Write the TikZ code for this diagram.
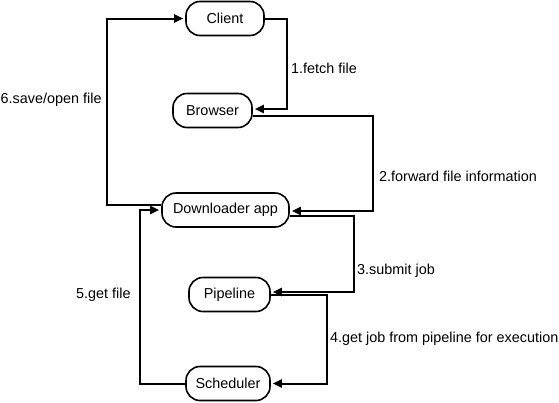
\documentclass[tikz,border=0pt]{standalone}
\usepackage{fontspec}
\setmainfont{Liberation Sans}
\usetikzlibrary{arrows.meta}

\begin{document}
\begin{tikzpicture}[
	  x=1pt,y=-1pt,font=\fontsize{14.4}{16}\selectfont,
	  stage/.style={draw,line width=1.6pt,rounded corners=14pt,minimum height=34pt,inner xsep=0pt},
	  flow/.style={line width=2pt,-{Triangle[length=9pt,width=8pt]},shorten >=2pt},
	  steplabel/.style={anchor=west,inner sep=0pt}
	]
		\useasboundingbox (0,0) rectangle (559,402);
		\node [stage,minimum width=78pt] (client) at (225,18.5) {Client};
		\node [stage,minimum width=79pt] (browser) at (212.5,110.5) {Browser};
		\node [stage,minimum width=127pt] (dl) at (225.5,210) {Downloader app};
		\node [stage,minimum width=81pt] (pipe) at (229.5,294.5) {Pipeline};
		\node [stage,minimum width=84pt] (sched) at (228,383.5) {Scheduler};
		\draw [flow] (client.east) -- ++(22,0) |- ([yshift=1.5pt]browser.east);
		\draw [flow] ([yshift=-5.5pt]browser.east) -- ++(120,0) |- ([yshift=-1pt]dl.east);
		\draw [flow] ([yshift=-6pt]dl.east) -- ++(64,0) |- ([yshift=2.5pt]pipe.east);
		\draw [flow] (pipe.east) -- ++(56,0) |- (sched.east);
		\draw [flow] (sched.west) -- ++(-45,0) |- (dl.west);
		\draw [flow] ([yshift=5pt]dl.west) -- ++(-54,0) |- (client.west);
		\node [steplabel] (l1) at (291,68.5) {1.fetch file};
		\node [steplabel] (l2) at (379,176) {2.forward file information};
		\node [steplabel] (l3) at (357,271) {3.submit job};
		\node [steplabel] (l4) at (330,339) {4.get job from pipeline for execution};
		\node [steplabel] (l5) at (76,295) {5.get file};
		\node [steplabel] (l6) at (0.5,100) {6.save/open file};
	\end{tikzpicture}
\end{document}
